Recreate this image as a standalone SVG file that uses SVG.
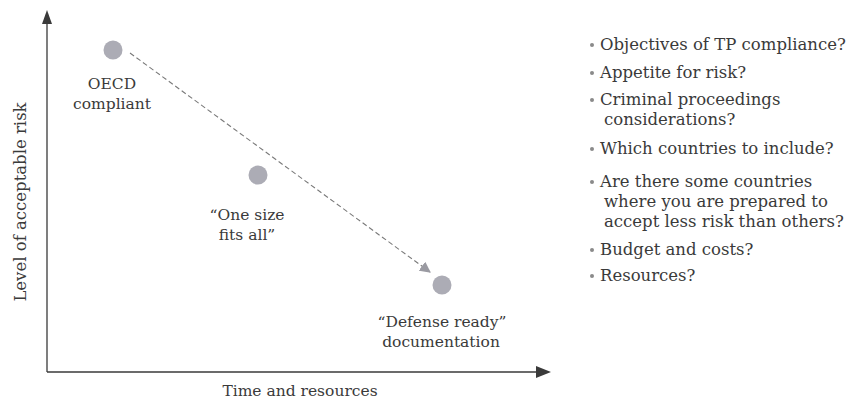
<svg xmlns="http://www.w3.org/2000/svg" width="860" height="403" viewBox="0 0 860 403">
<style>
text{font-family:"DejaVu Serif","Liberation Serif",serif;fill:#3a3a3a;font-size:15.5px}
.lbl{text-anchor:middle}
.li{font-size:16.5px}
.dot{fill:#acacb5}
.axis{stroke:#3a3a3a;stroke-width:1.3;fill:none}
.dash{stroke:#7a7a7a;stroke-width:1.1;stroke-dasharray:5 3;fill:none}
.b{fill:#8a8a8a}
</style>
<defs>
<marker id="ah" viewBox="0 0 10 10" refX="9" refY="5" markerWidth="11" markerHeight="11" markerUnits="userSpaceOnUse" orient="auto">
<path d="M0,0 L10,5 L0,10 Z" fill="#9a9aa2"/>
</marker>
</defs>
<rect width="860" height="403" fill="#ffffff"/>
<g id="axes">
<line class="axis" x1="47" y1="372" x2="47" y2="22"/>
<path d="M47,10 L42,24 L52,24 Z" fill="#3a3a3a"/>
<line class="axis" x1="47" y1="372" x2="538" y2="372"/>
<path d="M551,372 L536,366 L536,378 Z" fill="#3a3a3a"/>
<text class="lbl" transform="translate(26,202) rotate(-90)" style="font-size:16.5px">Level of acceptable risk</text>
<text class="lbl" x="300" y="396" style="font-size:15.5px">Time and resources</text>
</g>
<g id="connectors">
<line class="dash" x1="130" y1="53" x2="430" y2="272" marker-end="url(#ah)"/>
</g>
<g id="node-oecd">
<circle class="dot" cx="113" cy="50" r="9.5"/>
<text class="lbl" x="112" y="89">OECD</text>
<text class="lbl" x="112" y="109">compliant</text>
</g>
<g id="node-onesize">
<circle class="dot" cx="258" cy="175" r="9.5"/>
<text class="lbl" x="247" y="220">“One size</text>
<text class="lbl" x="247" y="240">fits all”</text>
</g>
<g id="node-defense">
<circle class="dot" cx="442" cy="285" r="9.5"/>
<text class="lbl" x="442" y="327">“Defense ready”</text>
<text class="lbl" x="441" y="347">documentation</text>
</g>
<g id="list">
<circle class="b" cx="592" cy="45" r="2"/>
<text class="li" x="600" y="50">Objectives of TP compliance?</text>
<circle class="b" cx="592" cy="73" r="2"/>
<text class="li" x="600" y="78">Appetite for risk?</text>
<circle class="b" cx="592" cy="100" r="2"/>
<text class="li" x="600" y="105">Criminal proceedings</text>
<text class="li" x="604" y="125">considerations?</text>
<circle class="b" cx="592" cy="149" r="2"/>
<text class="li" x="600" y="154">Which countries to include?</text>
<circle class="b" cx="592" cy="182" r="2"/>
<text class="li" x="600" y="187">Are there some countries</text>
<text class="li" x="604" y="207">where you are prepared to</text>
<text class="li" x="604" y="227">accept less risk than others?</text>
<circle class="b" cx="592" cy="250" r="2"/>
<text class="li" x="600" y="255">Budget and costs?</text>
<circle class="b" cx="592" cy="276" r="2"/>
<text class="li" x="600" y="281">Resources?</text>
</g>
</svg>
